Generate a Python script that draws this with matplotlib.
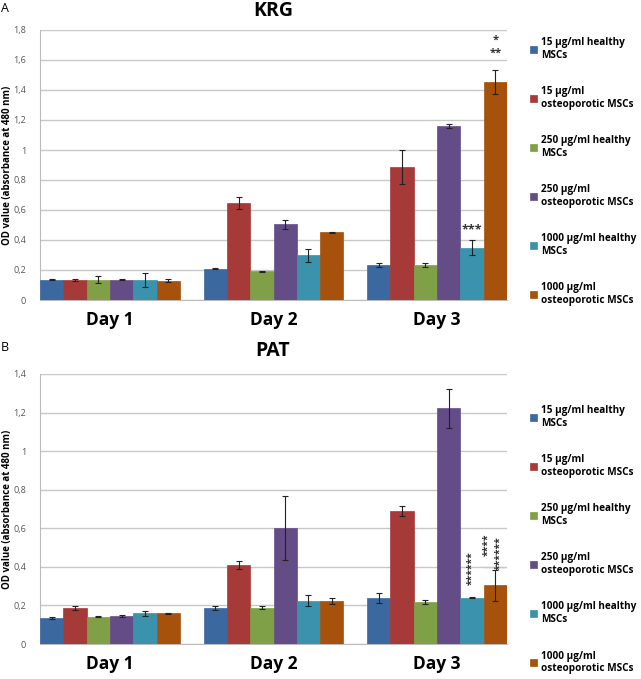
import matplotlib
matplotlib.use("Agg")
import matplotlib.pyplot as plt
import numpy as np

plt.rcParams['font.family'] = ['Open Sans', 'DejaVu Sans']

days = ["Day 1", "Day 2", "Day 3"]
series = ["15 µg/ml healthy\nMSCs", "15 µg/ml\nosteoporotic MSCs", "250 µg/ml healthy\nMSCs",
          "250 µg/ml\nosteoporotic MSCs", "1000 µg/ml healthy\nMSCs", "1000 µg/ml\nosteoporotic MSCs"]
colors = ["#3C68A0", "#A63A38", "#7FA046", "#644C86", "#3A92AC", "#A6520C"]

# KRG values [series][day]
krg_vals = [[0.135, 0.21, 0.232],
            [0.135, 0.645, 0.885],
            [0.135, 0.193, 0.236],
            [0.135, 0.505, 1.16],
            [0.135, 0.298, 0.347],
            [0.13, 0.453, 1.452]]
krg_err = [[0.003, 0.003, 0.015],
           [0.008, 0.04, 0.114],
           [0.022, 0.003, 0.013],
           [0.003, 0.03, 0.015],
           [0.045, 0.045, 0.05],
           [0.008, 0.003, 0.08]]

# PAT values [series][day]
pat_vals = [[0.135, 0.186, 0.24],
            [0.188, 0.41, 0.691],
            [0.142, 0.189, 0.217],
            [0.145, 0.60, 1.222],
            [0.159, 0.225, 0.241],
            [0.159, 0.224, 0.304]]
pat_err = [[0.003, 0.01, 0.025],
           [0.01, 0.02, 0.025],
           [0.002, 0.01, 0.01],
           [0.003, 0.165, 0.1],
           [0.012, 0.03, 0.003],
           [0.003, 0.015, 0.08]]

W, H = 641, 679
fig = plt.figure(figsize=(W / 100, H / 100), dpi=100)

def px_axes(left, top, right, bottom):
    return fig.add_axes([left / W, 1 - bottom / H, (right - left) / W, (bottom - top) / H])

group_w = 0.856
bar_w = group_w / 6
x = np.arange(len(days))

def draw(ax, vals, errs, ymax, title, letter, title_y, letter_y):
    for i in range(6):
        pos = x - group_w / 2 + bar_w * (i + 0.5)
        ax.bar(pos, vals[i], width=bar_w, color=colors[i], edgecolor=colors[i],
               linewidth=0.5, label=series[i], zorder=3,
               yerr=errs[i], error_kw=dict(ecolor="#222222", elinewidth=0.8, capsize=2, capthick=0.8, zorder=4))
    ax.set_xlim(-group_w / 2, 2 + group_w / 2)
    ax.set_ylim(0, ymax)
    ticks = np.round(np.arange(0, ymax + 0.001, 0.2), 1)
    ax.set_yticks(ticks)
    ax.set_yticklabels([("0" if t == 0 else ("1" if t == 1 else f"{t:.1f}".replace(".", ","))) for t in ticks],
                       fontsize=6.5, color="#555555")
    ax.set_xticks(x)
    ax.set_xticklabels(days, fontsize=12.5, fontweight="bold")
    ax.tick_params(axis="x", length=0, pad=8)
    ax.tick_params(axis="y", length=0, pad=10)
    ax.grid(axis="y", color="#C8C8C8", linewidth=1, zorder=0)
    for s in ["top", "right"]:
        ax.spines[s].set_visible(False)
    ax.spines["left"].set_color("#BBBBBB")
    ax.spines["bottom"].set_color("#BBBBBB")
    ax.set_ylabel("OD value (absorbance at 480 nm)", fontsize=7, fontweight="bold")
    ax.yaxis.set_label_coords(-27 / 467, 0.5)
    fig.text(273 / W, 1 - title_y / H, title, fontsize=14, fontweight="bold", ha="center", va="center")
    fig.text(1 / W, 1 - letter_y / H, letter, fontsize=9, ha="left", va="center")

ax1 = px_axes(40, 30, 507, 300)
draw(ax1, krg_vals, krg_err, 1.8, "KRG", "A", 11, 8)
ax2 = px_axes(40, 374, 507, 644)
draw(ax2, pat_vals, pat_err, 1.4, "PAT", "B", 351, 348)

for ax, top in [(ax1, 42), (ax2, 410)]:
    ax.legend(loc="upper left", bbox_to_anchor=(526 / W, 1 - (top - 9) / H), bbox_transform=fig.transFigure,
              frameon=False, prop=dict(size=7.2, weight="bold"), handlelength=0.65, handleheight=0.65,
              handletextpad=0.45, labelspacing=2.55, borderaxespad=0)

# significance annotations
def pos_of(series_idx, day_idx):
    return x[day_idx] - group_w / 2 + bar_w * (series_idx + 0.5)

ax1.text(pos_of(5, 2), 1.73, "*", ha="center", va="center", fontsize=8, fontweight="bold", color="#333333")
ax1.text(pos_of(5, 2), 1.645, "**", ha="center", va="center", fontsize=8, fontweight="bold", color="#333333")
ax1.text(pos_of(4, 2), 0.465, "***", ha="center", va="center", fontsize=9, fontweight="bold", color="#333333")

ax2.text(pos_of(4, 2), 0.395, "******", ha="center", va="center", rotation=90, fontsize=7.5, fontweight="bold", color="#333333")
ax2.text(pos_of(5, 2) - 0.045, 0.515, "****", ha="center", va="center", rotation=90, fontsize=7.5, fontweight="bold", color="#333333")
ax2.text(pos_of(5, 2) + 0.03, 0.47, "******", ha="center", va="center", rotation=90, fontsize=7.5, fontweight="bold", color="#333333")
ax2.plot([pos_of(5, 2) - bar_w / 2, pos_of(5, 2) + bar_w / 2], [0.40, 0.40], color="#C8C8C8", lw=1, zorder=2)

fig.savefig("out.png", dpi=100)
